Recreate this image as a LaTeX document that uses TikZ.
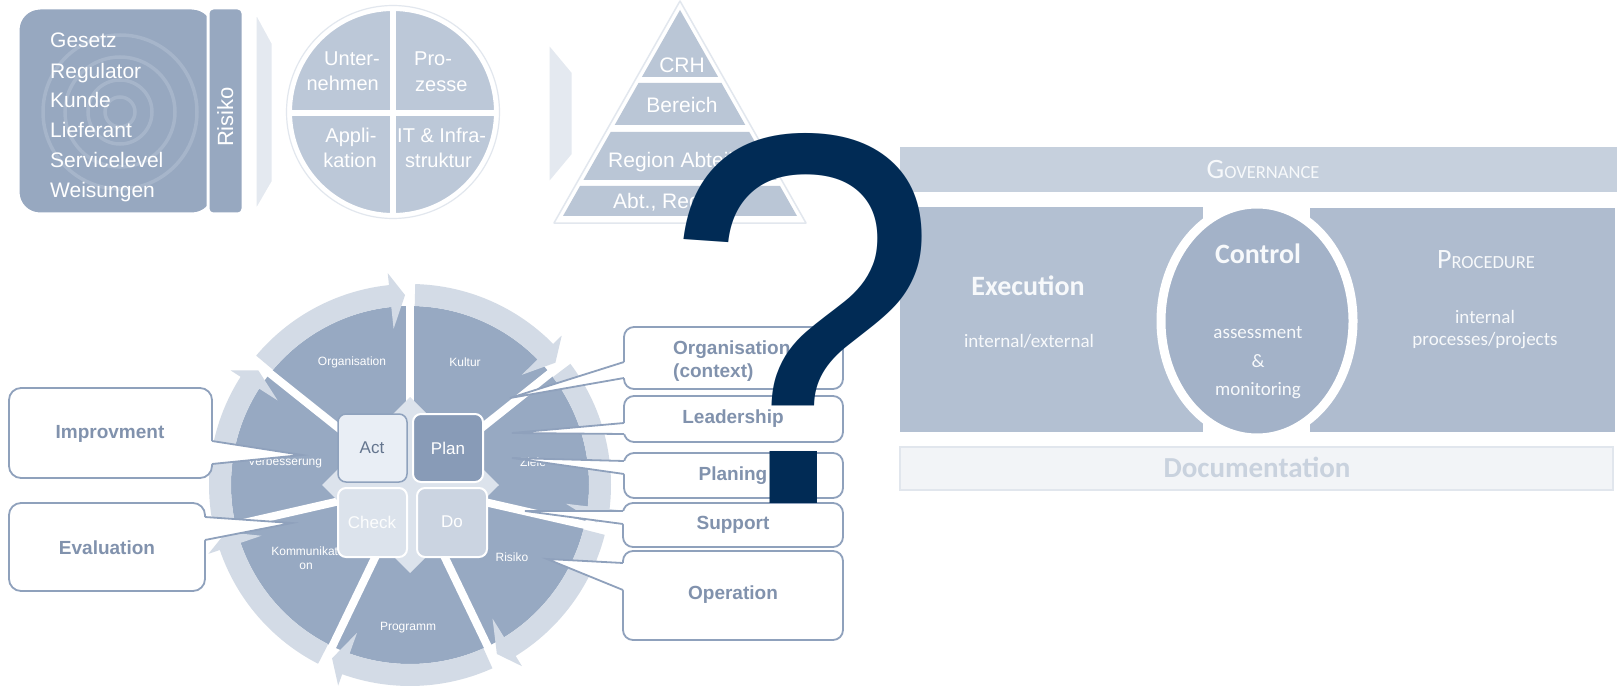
\documentclass[tikz,border=0pt]{standalone}
\usepackage{fontspec}
\setmainfont{Liberation Sans}
\newfontfamily\calfont{Carlito}
\definecolor{navy}{HTML}{012B55}
\definecolor{boxblue}{HTML}{97A8C0}
\definecolor{ringc}{HTML}{A6B5CA}
\definecolor{chev}{HTML}{E4E9F0}
\definecolor{circfill}{HTML}{BCC8D8}
\definecolor{pyrfill}{HTML}{BAC6D6}
\definecolor{pyrline}{HTML}{E2E7EE}
\definecolor{wdark}{HTML}{97A9C2}
\definecolor{wlight}{HTML}{D3DBE6}
\definecolor{diam}{HTML}{DCE3EC}
\definecolor{actfill}{HTML}{E9EEF5}
\definecolor{actborder}{HTML}{8FA2BD}
\definecolor{acttext}{HTML}{64758E}
\definecolor{planfill}{HTML}{889BB7}
\definecolor{checkfill}{HTML}{DCE3EC}
\definecolor{dofill}{HTML}{CBD4E1}
\definecolor{cline}{HTML}{8FA1BC}
\definecolor{ctxt}{HTML}{8192AD}
\definecolor{gov}{HTML}{C6D0DD}
\definecolor{exe}{HTML}{B3C0D2}
\definecolor{proc}{HTML}{AFBCCF}
\definecolor{ctrl}{HTML}{A3B2C8}
\definecolor{docf}{HTML}{F2F4F7}
\definecolor{docb}{HTML}{E1E6ED}
\definecolor{doctext}{HTML}{C9D2DE}
\definecolor{ptext}{HTML}{F7F9FB}
\tikzset{
  toptext/.style={text=white, inner sep=0, font=\fontsize{21}{25}\selectfont},
  wtext/.style={text=white, inner sep=0, font=\fontsize{12}{14}\selectfont, align=center},
  pdca/.style={inner sep=0, font=\fontsize{17}{20}\selectfont},
  cbox/.style={fill=white, draw=cline, line width=1.8, rounded corners=10},
  cwedge/.style={draw=cline, line width=1.8, line join=miter},
  ctext/.style={text=ctxt, inner sep=0, font=\bfseries\fontsize{19}{23}\selectfont},
  rtext/.style={text=ptext, inner sep=0},
}
\begin{document}
\begin{tikzpicture}[x=1pt,y=1pt]
\useasboundingbox (0,0) rectangle (1619,-687);
\fill[white] (0,0) rectangle (1619,-687);

% ---------- top-left box ----------
\filldraw[fill=boxblue, draw=white, line width=3, rounded corners=22] (18,-8) rectangle (214,-214);
\foreach \r in {15,32,55,77} \draw[ringc, line width=3.5] (120,-112) circle (\r);
\foreach \t/\y in {Gesetz/48, Regulator/79, Kunde/108, Lieferant/138, Servicelevel/168, Weisungen/198}
  \node[toptext, anchor=base west] (t\y) at (50,-\y) {\t};
\filldraw[fill=boxblue, draw=white, line width=3, rounded corners=5] (208,-8) rectangle (243,-214);
\node[toptext, rotate=90, anchor=base, font=\fontsize{22}{22}\selectfont] (risk) at (233,-117) {Risiko};

% chevrons
\filldraw[fill=chev, draw=white, line width=3] (255,-10) -- (273,-43) -- (273,-182) -- (255,-213) -- cycle;
\filldraw[fill=chev, draw=white, line width=3] (548,-42) -- (573,-72) -- (573,-155) -- (548,-185) -- cycle;

% ---------- circle ----------
\draw[pyrline, line width=1.2] (393,-112) circle (106.5);
\filldraw[fill=circfill, draw=white, line width=4] (393,-112) circle (103);
\draw[white, line width=6] (393,-8) -- (393,-216);
\draw[white, line width=6] (289,-113) -- (497,-113);
\node[toptext, anchor=base east, font=\fontsize{20}{24}\selectfont] (c1a) at (380,-66) {Unter-};
\node[toptext, anchor=base east, font=\fontsize{20}{24}\selectfont] (c1b) at (379,-91) {nehmen};
\node[toptext, anchor=base west, font=\fontsize{20}{24}\selectfont] (c2a) at (414,-66) {Pro-};
\node[toptext, anchor=base west, font=\fontsize{20}{24}\selectfont] (c2b) at (415,-92) {zesse};
\node[toptext, anchor=base, font=\fontsize{20}{24}\selectfont] (c3a) at (351,-143) {Appli-};
\node[toptext, anchor=base, font=\fontsize{20}{24}\selectfont] (c3b) at (350,-168) {kation};
\node[toptext, anchor=base west, font=\fontsize{20}{24}\selectfont] (c4a) at (397,-143) {IT \& Infra-};
\node[toptext, anchor=base west, font=\fontsize{20}{24}\selectfont] (c4b) at (405,-168) {struktur};

% ---------- pyramid ----------
\filldraw[fill=white, draw=pyrline, line width=1.5, line join=round] (680,-1) -- (806,-223) -- (554,-223) -- cycle;
\fill[pyrfill] (680,-10) -- (718.1,-77) -- (641.9,-77) -- cycle;
\fill[pyrfill] (638.5,-83) -- (721.5,-83) -- (745.3,-125) -- (614.7,-125) -- cycle;
\fill[pyrfill] (610.7,-132) -- (749.3,-132) -- (776.6,-180) -- (583.4,-180) -- cycle;
\fill[pyrfill] (580,-186) -- (780,-186) -- (797,-216) -- (563,-216) -- cycle;
\node[toptext, anchor=base] (crh) at (682,-73) {CRH};
\node[toptext, anchor=base] (ber) at (682,-113) {Bereich};
\node[toptext, anchor=base west] (reg) at (608,-168) {Region Abteilung};
\node[toptext, anchor=base west] (abt) at (613,-208) {Abt., Region};

% ---------- wheel ----------
\begin{scope}[shift={(410,-485)}]
  \fill[wdark] (0,0) circle (179);
  \foreach \k in {0,...,6} \draw[white, line width=8] (90-\k*51.4286:60) -- (90-\k*51.4286:204);
  \foreach \k in {0,...,6}{
    \pgfmathsetmacro\a{141.4286-\k*51.4286-1.5}
    \pgfmathsetmacro\hb{90-\k*51.4286+6}
    \pgfmathsetmacro\tp{90-\k*51.4286+1.5}
    \fill[wlight] (\a:179) -- (\a:201) arc[start angle=\a, end angle=\hb, radius=201]
      -- (\hb:213) -- (\tp:190) -- (\hb:157) -- (\hb:179)
      arc[start angle=\hb, end angle=\a, radius=179] -- cycle;
  }
\end{scope}
\node[wtext] (w1) at (352,-362) {Organisation};
\node[wtext] (w2) at (465,-362) {Kultur};
\node[wtext] (w3) at (533,-462) {Ziele};
\node[wtext] (w4) at (512,-557) {Risiko};
\node[wtext] (w5) at (408,-628) {Programm};
\node[wtext] (w6) at (306,-558) {Kommunikati\\on};
\node[wtext] (w7) at (285,-462) {Verbesserung};

\fill[diam] (410,-397) -- (499,-485) -- (410,-573) -- (322,-485) -- cycle;
\filldraw[fill=actfill, draw=actborder, line width=1.5, rounded corners=8] (338,-414) rectangle (407,-482);
\filldraw[fill=planfill, draw=white, line width=2, rounded corners=8] (413,-414) rectangle (483,-482);
\filldraw[fill=checkfill, draw=white, line width=2, rounded corners=8] (338,-488) rectangle (407,-557);
\filldraw[fill=dofill, draw=white, line width=2, rounded corners=8] (417,-488) rectangle (487,-557);
\node[pdca, text=acttext] (act) at (372,-448) {Act};
\node[pdca, text=white] (plan) at (448,-448) {Plan};
\node[pdca, text=white!92!checkfill] (check) at (372,-522) {Check};
\node[pdca, text=white] (do) at (452,-522) {Do};

% ---------- callouts right ----------
\coordinate (t1) at (510,-398);
\coordinate (t2) at (512,-433);
\coordinate (t3) at (512,-458);
\coordinate (t4) at (525,-511);
\coordinate (t5) at (547,-559);
\filldraw[cbox] (624,-327) rectangle (843,-389);
\fill[white] (t1) -- (624,-362) -- (627,-362) -- (627,-378) -- (624,-378) -- cycle;
\draw[cwedge] (624,-362) -- (t1) -- (624,-378);
\filldraw[cbox] (624,-396) rectangle (843,-442);
\fill[white] (t2) -- (624,-423) -- (627,-423) -- (627,-434) -- (624,-434) -- cycle;
\draw[cwedge] (624,-423) -- (t2) -- (624,-434);
\filldraw[cbox] (624,-453) rectangle (843,-498);
\fill[white] (t3) -- (624,-461) -- (627,-461) -- (627,-474) -- (624,-474) -- cycle;
\draw[cwedge] (624,-461) -- (t3) -- (624,-474);
\filldraw[cbox] (623,-503) rectangle (843,-547);
\fill[white] (t4) -- (623,-511) -- (626,-511) -- (626,-524) -- (623,-524) -- cycle;
\draw[cwedge] (623,-511) -- (t4) -- (623,-524);
\filldraw[cbox] (623,-551) rectangle (843,-640);
\fill[white] (t5) -- (623,-563) -- (626,-563) -- (626,-590) -- (623,-590) -- cycle;
\draw[cwedge] (623,-563) -- (t5) -- (623,-590);
\node[ctext, anchor=base west] (org1) at (673,-354) {Organisation};
\node[ctext, anchor=base west] (org2) at (673,-377) {(context)};
\node[ctext] (lead) at (733,-419) {Leadership};
\node[ctext] (plng) at (733,-476) {Planing};
\node[ctext] (supp) at (733,-525) {Support};
\node[ctext] (oper) at (733,-595) {Operation};

% ---------- callouts left ----------
\coordinate (t6) at (302,-455);
\coordinate (t7) at (292,-523);
\filldraw[cbox, rounded corners=12] (9,-388) rectangle (212,-478);
\fill[white] (t6) -- (212,-441) -- (209,-441) -- (209,-464) -- (212,-464) -- cycle;
\draw[cwedge] (212,-441) -- (t6) -- (212,-464);
\filldraw[cbox, rounded corners=12] (9,-503) rectangle (205,-591);
\fill[white] (t7) -- (205,-517) -- (202,-517) -- (202,-540) -- (205,-540) -- cycle;
\draw[cwedge] (205,-517) -- (t7) -- (205,-540);
\node[ctext] (impr) at (110,-434) {Improvment};
\node[ctext] (eval) at (107,-548) {Evaluation};

% ---------- right panel ----------
\fill[gov] (900,-147) rectangle (1617,-192);
\fill[exe] (900,-207) rectangle (1203,-432);
\fill[proc] (1310,-208) rectangle (1615,-432);
\filldraw[fill=ctrl, draw=white, line width=9] (1257,-321) ellipse [x radius=96, y radius=117];
\filldraw[fill=docf, draw=docb, line width=1.2] (900,-447) rectangle (1613,-490);
\node[rtext, anchor=base, font=\calfont\fontsize{28}{28}\selectfont] (govt) at (1263,-179) {G{\fontsize{18.5}{18.5}\selectfont OVERNANCE}};
\node[rtext, anchor=base, font=\calfont\fontsize{28}{28}\selectfont] (proct) at (1486,-268) {P{\fontsize{18.5}{18.5}\selectfont ROCEDURE}};
\node[rtext, anchor=base, font=\calfont\bfseries\fontsize{28}{28}\selectfont] (exet) at (1028,-295) {Execution};
\node[rtext, anchor=base, font=\calfont\fontsize{19}{19}\selectfont] (exes) at (1029,-347) {internal/external};
\node[rtext, anchor=base, font=\calfont\bfseries\fontsize{28}{28}\selectfont] (ctlt) at (1258,-263) {Control};
\node[rtext, anchor=base, font=\calfont\fontsize{19}{19}\selectfont] (ctl1) at (1258,-338) {assessment};
\node[rtext, anchor=base, font=\calfont\fontsize{19}{19}\selectfont] (ctl2) at (1258,-367) {\&};
\node[rtext, anchor=base, font=\calfont\fontsize{19}{19}\selectfont] (ctl3) at (1258,-395) {monitoring};
\node[rtext, anchor=base, font=\calfont\fontsize{19}{19}\selectfont] (pr1) at (1485,-323) {internal};
\node[rtext, anchor=base, font=\calfont\fontsize{19}{19}\selectfont] (pr2) at (1485,-345) {processes/projects};
\node[inner sep=0, anchor=base, text=doctext, font=\calfont\bfseries\fontsize{29}{29}\selectfont] (doct) at (1257,-477) {Documentation};

% ---------- question mark ----------
\node[inner sep=0, anchor=base west, xscale=0.94, text=navy, font=\fontsize{530}{530}\selectfont] (qm) at (663,-503) {?};
\end{tikzpicture}
\end{document}
